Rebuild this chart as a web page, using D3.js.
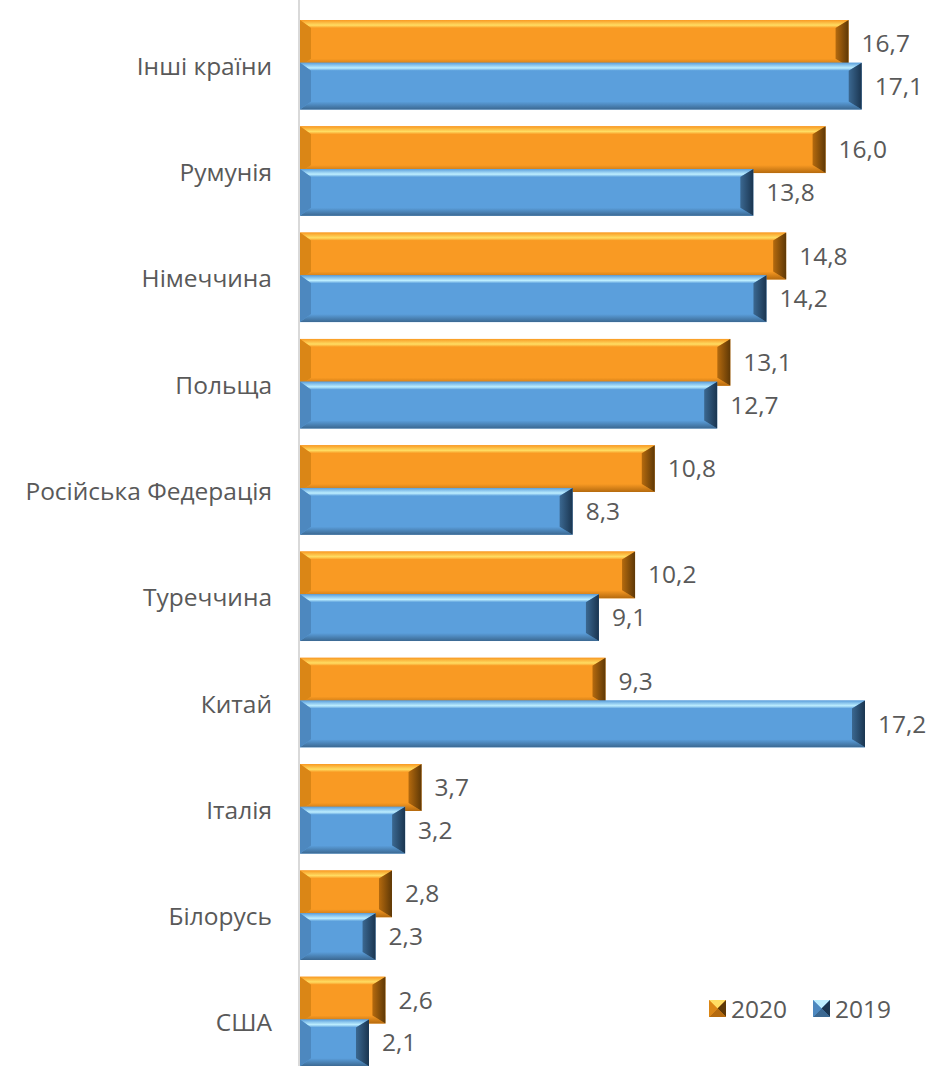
<!DOCTYPE html>
<html>
<head>
<meta charset="utf-8">
<script src="https://cdn.jsdelivr.net/npm/d3@7"></script>
<style>
  body { margin: 0; background: #fff; }
  text { font-family: "Open Sans", "Noto Sans", sans-serif; fill: #595959; }
</style>
</head>
<body>
<div id="chart"></div>
<script>
var categories = ["Інші країни", "Румунія", "Німеччина", "Польща", "Російська Федерація",
                  "Туреччина", "Китай", "Італія", "Білорусь", "США"];
var values2020 = [16.7, 16.0, 14.8, 13.1, 10.8, 10.2, 9.3, 3.7, 2.8, 2.6];
var values2019 = [17.1, 13.8, 14.2, 12.7, 8.3, 9.1, 17.2, 3.2, 2.3, 2.1];
var seriesNames = ["2020", "2019"];

var width = 932, height = 1066;
var fontSize = "24.5px";

// colours for the bevelled look
var palette = {
  "2020": {base: "#F99A23", light: "#FFDD63", dark: "#B56A0E", edge: "#5E3806", left: "#DA8616"},
  "2019": {base: "#5B9FDC", light: "#BDEEFF", dark: "#3B6891", edge: "#1A3550", left: "#4D88BF"}
};

var svg = d3.select("#chart")
        .append("svg")
        .attr("width", width)
        .attr("height", height);

var x = d3.scaleLinear()
        .domain([0, 17.2])
        .range([300, 865]);

var y = d3.scaleBand()
        .domain(categories)
        .range([13, 1076]);

var bw = y.bandwidth();
var barH = bw * 0.44;
var offsets = {"2020": bw * 0.066, "2019": bw * 0.468};

// gradients
var defs = svg.append("defs");
seriesNames.forEach(function (s) {
  var p = palette[s];
  var g = defs.append("linearGradient").attr("id", "top" + s)
          .attr("x1", 0).attr("y1", 0).attr("x2", 0).attr("y2", 1);
  g.append("stop").attr("offset", "0%").attr("stop-color", p.base);
  g.append("stop").attr("offset", "65%").attr("stop-color", p.light);
  g.append("stop").attr("offset", "100%").attr("stop-color", p.base);
  var r = defs.append("linearGradient").attr("id", "right" + s)
          .attr("x1", 0).attr("y1", 0).attr("x2", 1).attr("y2", 0);
  r.append("stop").attr("offset", "0%").attr("stop-color", p.dark);
  r.append("stop").attr("offset", "100%").attr("stop-color", p.edge);
  var b = defs.append("linearGradient").attr("id", "bot" + s)
          .attr("x1", 0).attr("y1", 0).attr("x2", 0).attr("y2", 1);
  b.append("stop").attr("offset", "0%").attr("stop-color", p.base);
  b.append("stop").attr("offset", "100%").attr("stop-color", p.dark);
});

function pt(a) {
  return a.map(function (q) { return q.join(","); }).join(" ");
}

function drawBar(g, x0, x1, y0, y1, s) {
  var p = palette[s];
  var bt = 8, bl = Math.min(11, (x1 - x0) / 3), br = Math.min(13, (x1 - x0) / 3);
  g.append("rect").attr("x", x0).attr("y", y0)
          .attr("width", x1 - x0).attr("height", y1 - y0).attr("fill", p.base);
  g.append("polygon").attr("points", pt([[x0, y0], [x1, y0], [x1 - br, y0 + bt], [x0 + bl, y0 + bt]]))
          .attr("fill", "url(#top" + s + ")");
  g.append("polygon").attr("points", pt([[x0, y1], [x1, y1], [x1 - br, y1 - bt], [x0 + bl, y1 - bt]]))
          .attr("fill", "url(#bot" + s + ")");
  g.append("polygon").attr("points", pt([[x0, y0], [x0 + bl, y0 + bt], [x0 + bl, y1 - bt], [x0, y1]]))
          .attr("fill", p.left);
  g.append("polygon").attr("points", pt([[x1, y0], [x1 - br, y0 + bt], [x1 - br, y1 - bt], [x1, y1]]))
          .attr("fill", "url(#right" + s + ")");
}

var fmt = function (v) { return d3.format(".1f")(v).replace(".", ","); };

// bars
var data = {"2020": values2020, "2019": values2019};
seriesNames.forEach(function (s) {
  categories.forEach(function (c, i) {
    var v = data[s][i];
    var y0 = y(c) + offsets[s];
    var g = svg.append("g").attr("class", "bar");
    drawBar(g, x(0), x(v), y0, y0 + barH, s);
    svg.append("text")
            .attr("x", x(v) + 13)
            .attr("y", y0 + barH / 2)
            .attr("dy", "0.35em")
            .attr("font-size", fontSize)
            .text(fmt(v));
  });
});

// axis line
svg.append("line")
        .attr("x1", 299).attr("x2", 299)
        .attr("y1", 0).attr("y2", height)
        .attr("stroke", "#D9D9D9").attr("stroke-width", 2);

// category labels
svg.selectAll(".cat")
        .data(categories)
        .enter()
        .append("text")
        .attr("class", "cat")
        .attr("x", 272)
        .attr("y", function (d) { return y(d) + bw / 2; })
        .attr("dy", "0.35em")
        .attr("text-anchor", "end")
        .attr("font-size", fontSize)
        .text(function (d) { return d; });

// legend
var legendX = {"2020": 709, "2019": 813};
seriesNames.forEach(function (s) {
  var g = svg.append("g");
  drawLegendBox(g, legendX[s], 1000, s);
  svg.append("text")
          .attr("x", legendX[s] + 22)
          .attr("y", 1009)
          .attr("dy", "0.35em")
          .attr("font-size", fontSize)
          .text(s);
});

function drawLegendBox(g, lx, ly, s) {
  var p = palette[s], sz = 17, h = sz / 2;
  g.append("rect").attr("x", lx).attr("y", ly).attr("width", sz).attr("height", sz).attr("fill", p.base);
  g.append("polygon").attr("points", pt([[lx, ly], [lx + sz, ly], [lx + h, ly + h]])).attr("fill", p.light);
  g.append("polygon").attr("points", pt([[lx + sz, ly], [lx + sz, ly + sz], [lx + h, ly + h]])).attr("fill", p.edge);
  g.append("polygon").attr("points", pt([[lx, ly + sz], [lx + sz, ly + sz], [lx + h, ly + h]])).attr("fill", p.dark);
  g.append("polygon").attr("points", pt([[lx, ly], [lx, ly + sz], [lx + h, ly + h]])).attr("fill", p.left);
}
</script>
</body>
</html>
